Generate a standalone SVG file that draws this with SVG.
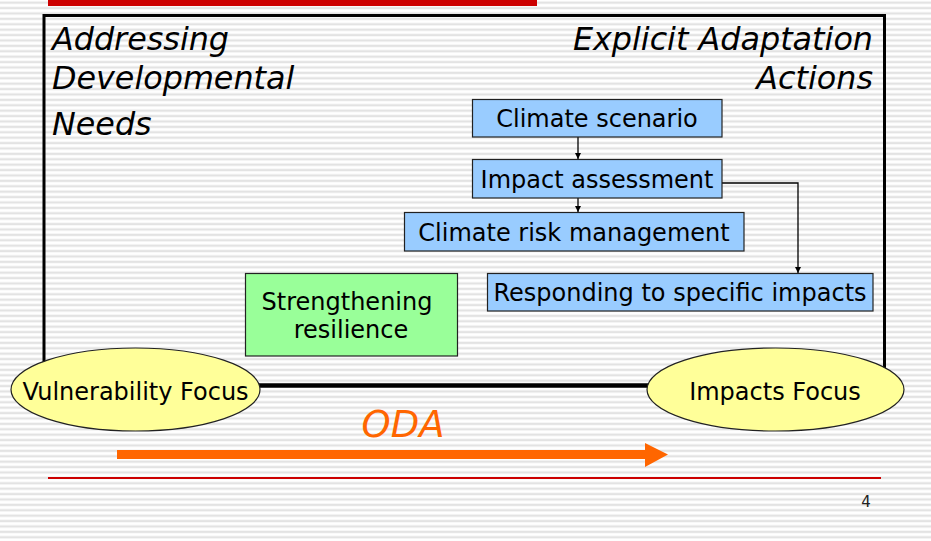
<svg xmlns="http://www.w3.org/2000/svg" width="931" height="541" viewBox="0 0 931 541">
<defs>
<pattern id="stripes" x="0" y="0" width="10" height="5.4" patternUnits="userSpaceOnUse">
<rect x="0" y="0" width="10" height="5.4" fill="#ffffff"/>
<rect x="0" y="1.5" width="10" height="2.3" fill="#e3e3e3"/>
</pattern>
<marker id="ah" viewBox="0 0 10 10" refX="10" refY="5" markerWidth="6" markerHeight="7" markerUnits="userSpaceOnUse" orient="auto">
<path d="M0,0 L10,5 L0,10 Z" fill="#000"/>
</marker>
<style>
.t{font-family:"DejaVu Sans","Verdana",sans-serif;fill:#000}
.title{font-size:31.8px;font-style:italic}
.box{fill:#99ccff;stroke:#222;stroke-width:1.2}
.lbl{font-size:24px;text-anchor:middle}
.ell{fill:#ffff99;stroke:#222;stroke-width:1.2}
.conn{fill:none;stroke:#000;stroke-width:1.3}
</style>
</defs>
<rect x="0" y="0" width="931" height="541" fill="url(#stripes)"/>
<rect x="48" y="0" width="489" height="6" fill="#cc0000"/>
<g id="frame">
<path d="M44,386 L44,15.5 L884.5,15.5 L884.5,386" fill="none" stroke="#000" stroke-width="3"/>
<line x1="44" y1="385.5" x2="884.5" y2="385.5" stroke="#000" stroke-width="4.5"/>
</g>
<g id="titles">
<text class="t title" x="52" y="50">Addressing</text>
<text class="t title" x="52" y="89">Developmental</text>
<text class="t title" x="52" y="135">Needs</text>
<text class="t title" x="873" y="50" text-anchor="end">Explicit Adaptation</text>
<text class="t title" x="873" y="89" text-anchor="end">Actions</text>
</g>
<g id="connectors">
<line class="conn" x1="578" y1="137" x2="578" y2="159" marker-end="url(#ah)"/>
<line class="conn" x1="578" y1="198" x2="578" y2="212" marker-end="url(#ah)"/>
<polyline class="conn" points="722,183 798,183 798,273" marker-end="url(#ah)"/>
</g>
<g id="climate-scenario">
<rect class="box" x="472.5" y="99.5" width="249.5" height="37.5"/>
<text class="t lbl" x="597" y="127">Climate scenario</text>
</g>
<g id="impact-assessment">
<rect class="box" x="472.5" y="159.5" width="249.5" height="38.5"/>
<text class="t lbl" x="597" y="188">Impact assessment</text>
</g>
<g id="climate-risk-management">
<rect class="box" x="404.5" y="212.5" width="339.5" height="38.5"/>
<text class="t lbl" x="574" y="241">Climate risk management</text>
</g>
<g id="responding">
<rect class="box" x="487.5" y="273.5" width="385.5" height="37.5"/>
<text class="t lbl" x="680" y="301">Responding to specific impacts</text>
</g>
<g id="strengthening-resilience">
<rect x="245.5" y="273.5" width="212" height="82.5" fill="#99ff99" stroke="#222" stroke-width="1.2"/>
<text class="t lbl" x="347" y="310">Strengthening</text>
<text class="t lbl" x="351" y="338">resilience</text>
</g>
<g id="vulnerability-focus">
<ellipse class="ell" cx="135.5" cy="389.5" rx="124.5" ry="41.5"/>
<text class="t lbl" x="135.5" y="400">Vulnerability Focus</text>
</g>
<g id="impacts-focus">
<ellipse class="ell" cx="775.5" cy="389.5" rx="128.5" ry="41.5"/>
<text class="t lbl" x="775" y="400">Impacts Focus</text>
</g>
<g id="oda">
<text x="403" y="437" font-family="DejaVu Sans, Verdana, sans-serif" font-size="37" font-style="italic" fill="#ff6600" text-anchor="middle">ODA</text>
<path d="M117,450 L645,450 L645,443 L668,454.5 L645,467 L645,459 L117,459 Z" fill="#ff6600"/>
</g>
<line x1="48" y1="478" x2="881" y2="478" stroke="#cc0000" stroke-width="2"/>
<text x="866" y="507" font-family="DejaVu Sans, Verdana, sans-serif" font-size="15" fill="#222" text-anchor="middle">4</text>
</svg>
